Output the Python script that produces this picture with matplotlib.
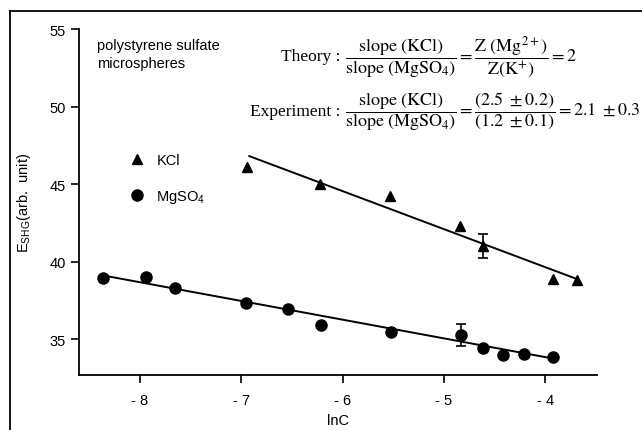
import matplotlib
matplotlib.use("Agg")
from matplotlib import pyplot as plt
from matplotlib.lines import Line2D

plt.rcParams['font.family'] = ['Liberation Sans', 'DejaVu Sans']
plt.rcParams['mathtext.fontset'] = 'custom'
plt.rcParams['mathtext.rm'] = 'Liberation Sans'
plt.rcParams['mathtext.it'] = 'Liberation Sans:italic'

# KCl data (triangles)
kcl_x = [-6.94, -6.22, -5.53, -4.84, -4.61, -3.92, -3.69]
kcl_y = [46.1, 45.0, 44.2, 42.3, 41.0, 38.9, 38.8]
kcl_err = [0, 0, 0, 0, 0.75, 0, 0]
# MgSO4 data (circles)
mg_x = [-8.36, -7.94, -7.65, -6.95, -6.54, -6.21, -5.52, -4.83, -4.61, -4.42, -4.21, -3.92]
mg_y = [38.95, 39.0, 38.3, 37.35, 36.95, 35.9, 35.45, 35.25, 34.4, 34.0, 34.05, 33.85]
mg_err = [0, 0, 0, 0, 0, 0, 0, 0.7, 0, 0, 0, 0]

# fitted lines, endpoints
kcl_fit_x = [-6.92, -3.70]
kcl_fit_y = [46.8, 38.9]
mg_fit_x = [-8.36, -3.93]
mg_fit_y = [39.1, 33.75]

xticks = [-8, -7, -6, -5, -4]
xtick_labels = ["- 8", "- 7", "- 6", "- 5", "- 4"]
yticks = [35, 40, 45, 50, 55]

fig = plt.figure(figsize=(6.42, 4.31), dpi=100)
ax = fig.add_axes([79/642, 1 - 376/431, (597 - 79)/642, (376 - 30)/431])

ax.plot(kcl_fit_x, kcl_fit_y, color='black', lw=1.4)
ax.plot(mg_fit_x, mg_fit_y, color='black', lw=1.4)

ax.plot(kcl_x, kcl_y, '^', color='black', ms=7, label='KCl')
ax.plot(mg_x, mg_y, 'o', color='black', ms=8, label='MgSO$_4$')

# error bars only where present
for xs, ys, es in [(kcl_x, kcl_y, kcl_err), (mg_x, mg_y, mg_err)]:
    for xv, yv, ev in zip(xs, ys, es):
        if ev > 0:
            ax.errorbar([xv], [yv], yerr=[ev], fmt='none', ecolor='black', capsize=3.5, elinewidth=1.2, capthick=1.2)

ax.set_xlim(-8.6, -3.49)
ax.set_ylim(32.68, 55)
ax.set_xticks(xticks)
ax.set_xticklabels(xtick_labels)
ax.set_yticks(yticks)
ax.spines['top'].set_visible(False)
ax.spines['right'].set_visible(False)
ax.spines['left'].set_linewidth(1.3)
ax.spines['bottom'].set_linewidth(1.3)
ax.tick_params(direction='out', length=6, width=1.2, labelsize=10.5)
ax.tick_params(axis='x', pad=7)

ax.set_xlabel("lnC", fontsize=10.5, labelpad=4)
ax.set_ylabel("E$_{\\mathrm{SHG}}$(arb.  unit)", fontsize=10.5, labelpad=12)

ax.legend(loc='upper left', bbox_to_anchor=(117/642, 1 - 141/431), bbox_transform=fig.transFigure,
          frameon=False, handlelength=1.0, handletextpad=0.8, labelspacing=1.45, fontsize=10.5)

fig.text(97/642, 1 - 55/431, "polystyrene sulfate\nmicrospheres", fontsize=10.5, va='center', ha='left', linespacing=1.3)

fig.text(340/642, 1 - 57/431, "Theory :", fontsize=12.5, family='Liberation Serif',
         ha='right', va='center')
fig.text(345/642, 1 - 57/431,
         r"$\dfrac{\mathrm{slope\ (KCl)}}{\mathrm{slope\ (MgSO_4)}} = \dfrac{\mathrm{Z\ (Mg^{2+})}}{\mathrm{Z(K^{+})}} = 2$",
         fontsize=13, ha='left', va='center', math_fontfamily='stix')
fig.text(340/642, 1 - 112/431, "Experiment :", fontsize=12.5, family='Liberation Serif',
         ha='right', va='center')
fig.text(345/642, 1 - 112/431,
         r"$\dfrac{\mathrm{slope\ (KCl)}}{\mathrm{slope\ (MgSO_4)}} = \dfrac{(2.5\ \pm 0.2)}{(1.2\ \pm 0.1)} = 2.1\ \pm 0.3$",
         fontsize=13, ha='left', va='center', math_fontfamily='stix')

# page frame lines (left and top)
fig.add_artist(Line2D([9.5/642, 9.5/642], [0, 1 - 12/431], color='black', lw=1.3, transform=fig.transFigure))
fig.add_artist(Line2D([9.5/642, 1], [1 - 12/431, 1 - 12/431], color='black', lw=1.3, transform=fig.transFigure))

fig.savefig("out.png", dpi=100)
